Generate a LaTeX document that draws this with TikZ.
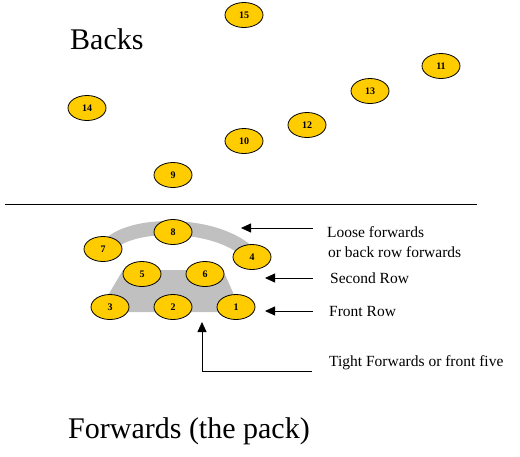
\documentclass[tikz,border=0pt]{standalone}
\usepackage{fontspec}
\setmainfont{Liberation Serif}
\usepackage{tikz}
\usetikzlibrary{arrows.meta,shapes.geometric}
\definecolor{Gold}{HTML}{FFCC00}
\definecolor{Silver}{HTML}{C0C0C0}
\tikzset{
    player/.style={
        ellipse, draw=black, line width=0.8pt, fill=Gold,
        minimum width=38pt, minimum height=25pt, inner sep=0pt,
        font=\fontsize{10}{10}\selectfont\bfseries
    },
    bigtitle/.style={
        anchor=base west, inner sep=0pt, font=\fontsize{30}{30}\selectfont
    },
    rowlabel/.style={
        anchor=base west, inner sep=0pt, font=\fontsize{15.5}{15.5}\selectfont
    },
    rowarrow/.style={
        -{Triangle[length=10pt,width=9pt]}, line width=0.8pt
    },
    packband/.style={
        draw=Silver, line width=14pt
    },
}
\begin{document}
\begin{tikzpicture}[x=1pt,y=-1pt]
    \useasboundingbox (0,0) rectangle (520,456);

    % Titles
    \node[bigtitle] (backs) at (70,49) {Backs};
    \node[bigtitle] (pack) at (68,438) {Forwards (the pack)};

    % Half line
    \draw[line width=1pt] (5,204) -- (477,204);

    % Grey shapes of the pack
    \draw[packband] (110,244) .. controls (135,221) and (215,222) .. (248,252);
    \fill[Silver] (123,270) -- (223,270) -- (235,297) -- (235,312)
        -- (110,312) -- (107,297) -- cycle;

    % Backs
    \node[player] (p15) at (244,15) {15};
    \node[player] (p11) at (441,66) {11};
    \node[player] (p13) at (370,91) {13};
    \node[player] (p14) at (87,108) {14};
    \node[player] (p12) at (307,125) {12};
    \node[player] (p10) at (244,141) {10};
    \node[player] (p9) at (173,175) {9};

    % Forwards
    \node[player] (p8) at (173,232) {8};
    \node[player] (p7) at (103,249) {7};
    \node[player] (p4) at (252,257) {4};
    \node[player] (p5) at (142,274) {5};
    \node[player] (p6) at (205,274) {6};
    \node[player] (p3) at (110,307) {3};
    \node[player] (p2) at (173,307) {2};
    \node[player] (p1) at (236,307) {1};

    % Labels
    \node[rowlabel] (loose) at (327,237) {Loose forwards};
    \node[rowlabel] (backrow) at (328,257) {or back row forwards};
    \node[rowlabel] (second) at (330,283) {Second Row};
    \node[rowlabel] (front) at (329,316) {Front Row};
    \node[rowlabel] (tight) at (329,366) {Tight Forwards or front five};

    % Arrows
    \coordinate (looseend) at (313,228);
    \coordinate (loosetip) at (241,228);
    \coordinate (secondend) at (313,278);
    \coordinate (secondtip) at (265,278);
    \coordinate (frontend) at (313,311);
    \coordinate (fronttip) at (265,311);
    \coordinate (tightend) at (312,371);
    \coordinate (tightcorner) at (202,371);
    \coordinate (tighttip) at (202,322);
    \draw[rowarrow] (looseend) -- (loosetip);
    \draw[rowarrow] (secondend) -- (secondtip);
    \draw[rowarrow] (frontend) -- (fronttip);
    \draw[rowarrow] (tightend) -- (tightcorner) -- (tighttip);
\end{tikzpicture}
\end{document}
